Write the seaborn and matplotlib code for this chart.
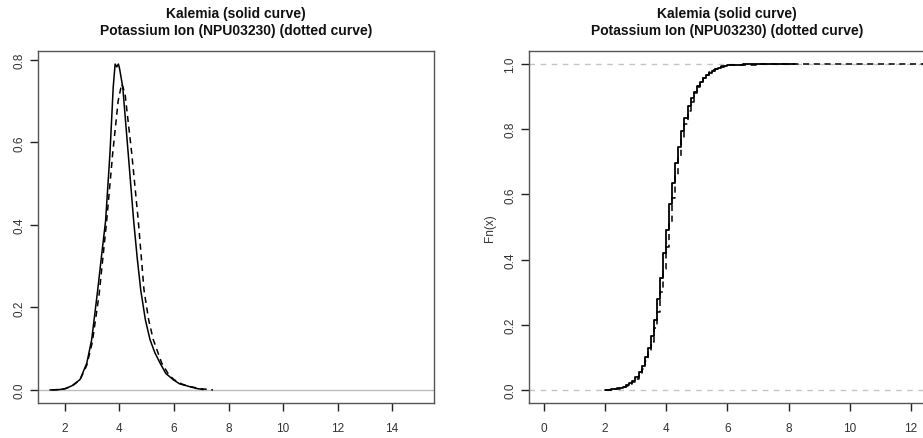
import matplotlib
matplotlib.use("Agg")
import matplotlib.pyplot as plt
import seaborn as sns
import pandas as pd

# ---- data ----
title = "Kalemia (solid curve)\nPotassium Ion (NPU03230) (dotted curve)"

# density curves (left panel)
kal_dens_x = [1.45, 1.8, 2.0, 2.25, 2.55, 2.8, 2.98, 3.2, 3.35, 3.49, 3.65, 3.77, 3.84,
              3.90, 3.96, 4.0, 4.12, 4.32, 4.52, 4.65, 4.78, 4.95, 5.12, 5.3, 5.49,
              5.7, 5.97, 6.2, 6.47, 6.8, 7.07]
kal_dens_y = [0.0, 0.001, 0.003, 0.01, 0.025, 0.065, 0.122, 0.242, 0.33, 0.41, 0.573,
              0.734, 0.79, 0.783, 0.79, 0.78, 0.734, 0.573, 0.41, 0.32, 0.242, 0.17,
              0.122, 0.09, 0.065, 0.04, 0.025, 0.015, 0.01, 0.004, 0.001]

npu_dens_x = [1.52, 1.8, 2.0, 2.25, 2.55, 2.8, 3.0, 3.25, 3.53, 3.75, 3.95, 4.08, 4.2,
              4.45, 4.69, 4.9, 5.07, 5.24, 5.55, 5.8, 6.0, 6.3, 6.6, 7.0, 7.43]
npu_dens_y = [0.0, 0.001, 0.003, 0.009, 0.024, 0.06, 0.115, 0.23, 0.41, 0.573, 0.70,
              0.742, 0.72, 0.573, 0.41, 0.242, 0.17, 0.122, 0.065, 0.038, 0.025,
              0.014, 0.008, 0.003, 0.0]

# empirical CDFs (right panel)
kal_ecdf_x = [2.0, 2.1, 2.2, 2.3, 2.4, 2.5, 2.6, 2.7, 2.8, 2.9, 3.0, 3.1, 3.2, 3.3, 3.4,
              3.5, 3.6, 3.7, 3.8, 3.9, 4.0, 4.1, 4.2, 4.3, 4.4, 4.5, 4.6, 4.7, 4.8, 4.9,
              5.0, 5.1, 5.2, 5.3, 5.4, 5.5, 5.6, 5.7, 5.8, 5.9, 6.0, 6.2, 6.5, 7.0,
              7.5, 8.2]
kal_ecdf_y = [0.0, 0.001, 0.002, 0.003, 0.005, 0.007, 0.010, 0.014, 0.020, 0.028, 0.040,
              0.055, 0.075, 0.100, 0.130, 0.165, 0.215, 0.280, 0.345, 0.420, 0.490,
              0.570, 0.635, 0.695, 0.745, 0.795, 0.835, 0.870, 0.895, 0.915, 0.932,
              0.946, 0.957, 0.966, 0.973, 0.979, 0.984, 0.988, 0.991, 0.994, 0.996,
              0.998, 0.999, 0.9995, 0.9997, 1.0]

npu_ecdf_x = [2.0, 2.2, 2.4, 2.5, 2.6, 2.7, 2.8, 2.9, 3.0, 3.1, 3.2, 3.3, 3.4, 3.5, 3.6,
              3.7, 3.8, 3.9, 4.0, 4.1, 4.2, 4.3, 4.4, 4.5, 4.6, 4.7, 4.8, 4.9, 5.0, 5.1,
              5.2, 5.3, 5.4, 5.5, 5.6, 5.7, 5.8, 6.0, 6.3, 7.0, 7.5, 15.0]
npu_ecdf_y = [0.0, 0.002, 0.004, 0.006, 0.009, 0.013, 0.018, 0.025, 0.035, 0.048, 0.065,
              0.088, 0.115, 0.148, 0.19, 0.24, 0.30, 0.37, 0.44, 0.515, 0.59, 0.655,
              0.715, 0.77, 0.815, 0.855, 0.885, 0.91, 0.93, 0.945, 0.957, 0.967, 0.975,
              0.981, 0.986, 0.990, 0.993, 0.996, 0.998, 0.999, 0.9995, 1.0]

left_xticks = [2, 4, 6, 8, 10, 12, 14]
left_yticks = [0.0, 0.2, 0.4, 0.6, 0.8]
right_xticks = [0, 2, 4, 6, 8, 10, 12]
right_yticks = [0.0, 0.2, 0.4, 0.6, 0.8, 1.0]
right_ylabel = "Fn(x)"

# ---- styling ----
sns.set_style("ticks")
plt.rcParams["font.family"] = ["Liberation Sans", "DejaVu Sans"]

W, H = 923, 439
fig = plt.figure(figsize=(W / 100, H / 100), dpi=100)
ax1 = fig.add_axes([38 / W, (H - 404) / H, 396 / W, 352 / H])
ax2 = fig.add_axes([529 / W, (H - 404) / H, 396 / W, 352 / H])

dash = (0, (4, 3))
frame_col = "#555555"
text_col = "#333333"

# left: densities
ax1.axhline(0, color="#bdbdbd", lw=1, zorder=1)
sns.lineplot(x=kal_dens_x, y=kal_dens_y, estimator=None, sort=False, color="black",
             lw=1.1, ax=ax1, zorder=3)
sns.lineplot(x=npu_dens_x, y=npu_dens_y, estimator=None, sort=False, color="black",
             lw=1.1, linestyle=dash, ax=ax1, zorder=3)
ax1.set_xlim(1.01, 15.54)
ax1.set_ylim(-0.0316, 0.8216)
ax1.set_xticks(left_xticks)
ax1.set_yticks(left_yticks)
ax1.set_xticklabels([str(t) for t in left_xticks])
ax1.set_yticklabels([f"{t:.1f}" for t in left_yticks])

# right: ECDFs
ax2.axhline(0, color="#c4c4c4", lw=1, linestyle=(0, (4, 4)), zorder=1)
ax2.axhline(1, color="#c4c4c4", lw=1, linestyle=(0, (4, 4)), zorder=1)
sns.lineplot(x=kal_ecdf_x, y=kal_ecdf_y, estimator=None, sort=False, color="black",
             lw=1.3, drawstyle="steps-post", ax=ax2, zorder=3)
sns.lineplot(x=npu_ecdf_x, y=npu_ecdf_y, estimator=None, sort=False, color="black",
             lw=1.1, linestyle=dash, drawstyle="steps-post", ax=ax2, zorder=3)
ax2.set_xlim(-0.48, 12.46)
ax2.set_ylim(-0.04, 1.04)
ax2.set_xticks(right_xticks)
ax2.set_yticks(right_yticks)
ax2.set_xticklabels([str(t) for t in right_xticks])
ax2.set_yticklabels([f"{t:.1f}" for t in right_yticks])
ax2.set_ylabel(right_ylabel, fontsize=8.5, color=text_col, labelpad=6)

for ax in (ax1, ax2):
    ax.set_xlabel("")
    for s in ax.spines.values():
        s.set_color(frame_col)
        s.set_linewidth(1.0)
        s.set_visible(True)
    ax.tick_params(axis="both", direction="out", length=6, width=1, color="#222222",
                   labelsize=8.5, labelcolor=text_col)
    ax.tick_params(axis="x", pad=8)
    ax.tick_params(axis="y", pad=3)
    for lab in ax.get_yticklabels():
        lab.set_rotation(90)
        lab.set_va("center")
    ax.set_title(title, fontsize=10, fontweight="bold", color="#111111",
                 pad=12, linespacing=1.3)
    ax.grid(False)

fig.savefig("out.png", dpi=100)
